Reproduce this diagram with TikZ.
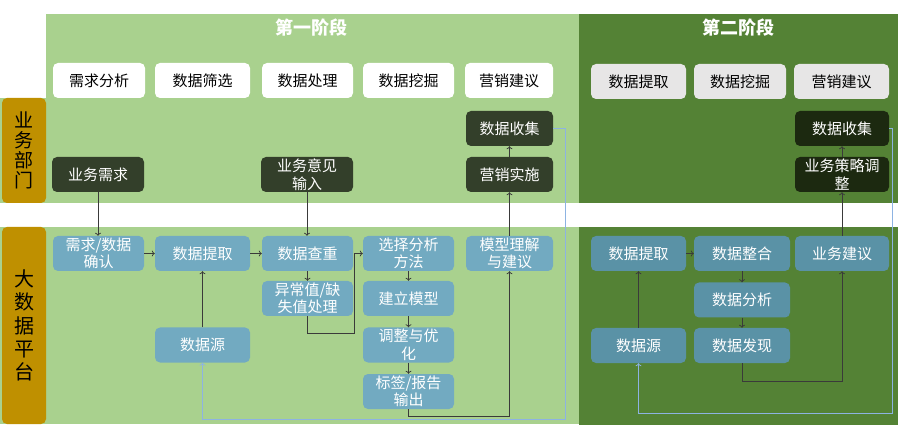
\documentclass[tikz,border=0pt]{standalone}
\usepackage{fontspec}
\setmainfont{Noto Sans CJK SC}
\usetikzlibrary{arrows.meta}
\definecolor{lgreen}{HTML}{A9D18E}
\definecolor{dgreen}{HTML}{548235}
\definecolor{gold}{HTML}{BF9000}
\definecolor{pblue}{HTML}{72AAC1}
\definecolor{pteal}{HTML}{5A92A6}
\definecolor{dbox}{HTML}{333F2A}
\definecolor{dbox2}{HTML}{1C2910}
\definecolor{hgray}{HTML}{E7E6E6}
\definecolor{lnblue}{HTML}{8DB3E2}
\definecolor{lndark}{HTML}{3A3A3A}
\begin{document}
\begin{tikzpicture}[x=1pt,y=1pt,
  box/.style={rounded corners=5pt, inner sep=0pt, align=center,
    font=\fontsize{15}{17.5}\selectfont, minimum height=35pt},
  hdr/.style={box, fill=white, text=black},
  hdr2/.style={box, fill=hgray, text=black},
  plat/.style={box, fill=pblue, text=white},
  plat2/.style={box, fill=pteal, text=white},
  biz/.style={box, fill=dbox, text=white},
  biz2/.style={box, fill=dbox2, text=white},
  arr/.style={draw=lndark, line width=0.7pt, -{To[length=3pt,width=6pt]}},
  barr/.style={draw=lnblue, line width=0.7pt, -{To[length=3pt,width=6pt]}},
  gold label/.style={fill=gold, rounded corners=5pt, minimum width=44pt, inner sep=0pt, align=center, text=black}
]
\useasboundingbox (0,0) rectangle (905,-430);
% backgrounds
\fill[lgreen] (46,-14) rectangle (579,-203);
\fill[lgreen] (0,-98) rectangle (46,-203);
\fill[lgreen] (0,-227) rectangle (579,-424);
\fill[dgreen] (579,-14) rectangle (898,-203);
\fill[dgreen] (579,-227) rectangle (898,-425);
% side labels
\node[gold label, minimum height=105pt, font=\fontsize{19}{20}\selectfont] (lbiz) at (24,-150.5) {业\\务\\部\\门};
\node[gold label, minimum height=197pt, font=\fontsize{20}{23.3}\selectfont] (lplat) at (24,-325.5) {大\\数\\据\\平\\台};
% titles
\node[text=white, font=\fontsize{18}{20}\selectfont\bfseries] (t1) at (311,-28) {第一阶段};
\node[text=white, font=\fontsize{18}{20}\selectfont\bfseries] (t2) at (738,-28) {第二阶段};
% header row stage 1
\node[hdr, minimum width=92pt] (h1) at (99,-80.5) {需求分析};
\node[hdr, minimum width=95pt] (h2) at (202.5,-80.5) {数据筛选};
\node[hdr, minimum width=91pt] (h3) at (307.5,-80.5) {数据处理};
\node[hdr, minimum width=91pt] (h4) at (408.5,-80.5) {数据挖掘};
\node[hdr, minimum width=88pt] (h5) at (509,-80.5) {营销建议};
% header row stage 2
\node[hdr2, minimum width=95pt] (g1) at (638.5,-81.5) {数据提取};
\node[hdr2, minimum width=92pt] (g2) at (740,-81.5) {数据挖掘};
\node[hdr2, minimum width=95pt] (g3) at (841.5,-81.5) {营销建议};
% business boxes stage 1
\node[biz, minimum width=92pt] (ywxq) at (98,-174.5) {业务需求};
\node[biz, minimum width=92pt] (ywyj) at (307,-174.5) {业务意见\\输入};
\node[biz, minimum width=87pt] (sjsj) at (509.5,-128.5) {数据收集};
\node[biz, minimum width=87pt] (yxss) at (509.5,-174.5) {营销实施};
% business boxes stage 2
\node[biz2, minimum width=94pt] (sjsj2) at (842,-128.5) {数据收集};
\node[biz2, minimum width=94pt] (clzt) at (842,-174.5) {业务策略调\\整};
% platform stage 1
\node[plat, minimum width=91pt] (xqqr) at (98.5,-253.5) {需求/数据\\确认};
\node[plat, minimum width=95pt] (sjtq) at (202.5,-253.5) {数据提取};
\node[plat, minimum width=91pt] (sjcc) at (307.5,-253.5) {数据查重};
\node[plat, minimum width=91pt] (xzff) at (408.5,-253.5) {选择分析\\方法};
\node[plat, minimum width=87pt] (mxlj) at (509.5,-253.5) {模型理解\\与建议};
\node[plat, minimum width=91pt] (yczh) at (307.5,-298.5) {异常值/缺\\失值处理};
\node[plat, minimum width=91pt] (jlmx) at (408.5,-298.5) {建立模型};
\node[plat, minimum width=95pt] (sjy) at (202.5,-345) {数据源};
\node[plat, minimum width=91pt] (tzyh) at (408.5,-345) {调整与优\\化};
\node[plat, minimum width=91pt] (bqbg) at (408.5,-391.5) {标签/报告\\输出};
% platform stage 2
\node[plat2, minimum width=95pt] (sjtq2) at (638.5,-253.5) {数据提取};
\node[plat2, minimum width=96pt] (sjzh) at (742,-253.5) {数据整合};
\node[plat2, minimum width=94pt] (ywjy) at (842,-253.5) {业务建议};
\node[plat2, minimum width=96pt] (sjfx) at (742,-300) {数据分析};
\node[plat2, minimum width=95pt] (sjy2) at (638.5,-345.5) {数据源};
\node[plat2, minimum width=96pt] (sjfx2) at (742,-345.5) {数据发现};
% junction coordinates
\coordinate (j1) at (354,-333);
\coordinate (j2) at (509.5,-416);
\coordinate (b1) at (565,-419);
\coordinate (j3) at (842,-381);
\coordinate (b2) at (892,-413);
% connectors stage 1
\draw[arr] (ywxq.south) -- (ywxq.south |- xqqr.north);
\draw[arr] (ywyj.south) -- (ywyj.south |- sjcc.north);
\draw[arr] (xqqr.east) -- (sjtq.west);
\draw[arr] (sjtq.east) -- (sjcc.west);
\draw[arr] (sjcc.south) -- (yczh.north);
\draw[arr] (yczh.south) |- (j1) |- (xzff.west);
\draw[arr] (xzff.south) -- (jlmx.north);
\draw[arr] (jlmx.south) -- (tzyh.north);
\draw[arr] (tzyh.south) -- (bqbg.north);
\draw[arr] (bqbg.south) |- (j2) -- (mxlj.south);
\draw[arr] (mxlj.north) -- (yxss.south);
\draw[arr] (yxss.north) -- (sjsj.south);
\draw[arr] (sjy.north) -- (sjtq.south);
\draw[barr] (sjsj.east) -| (b1) -| (sjy.south);
% connectors stage 2
\draw[arr] (sjy2.north) -- (sjtq2.south);
\draw[arr] (sjtq2.east) -- (sjzh.west);
\draw[arr] (sjzh.south) -- (sjfx.north);
\draw[arr] (sjfx.south) -- (sjfx2.north);
\draw[arr] (sjfx2.south) |- (j3) -- (ywjy.south);
\draw[arr] (ywjy.north) -- (clzt.south);
\draw[arr] (clzt.north) -- (sjsj2.south);
\draw[barr] (sjsj2.east) -| (b2) -| (sjy2.south);
\end{tikzpicture}
\end{document}
